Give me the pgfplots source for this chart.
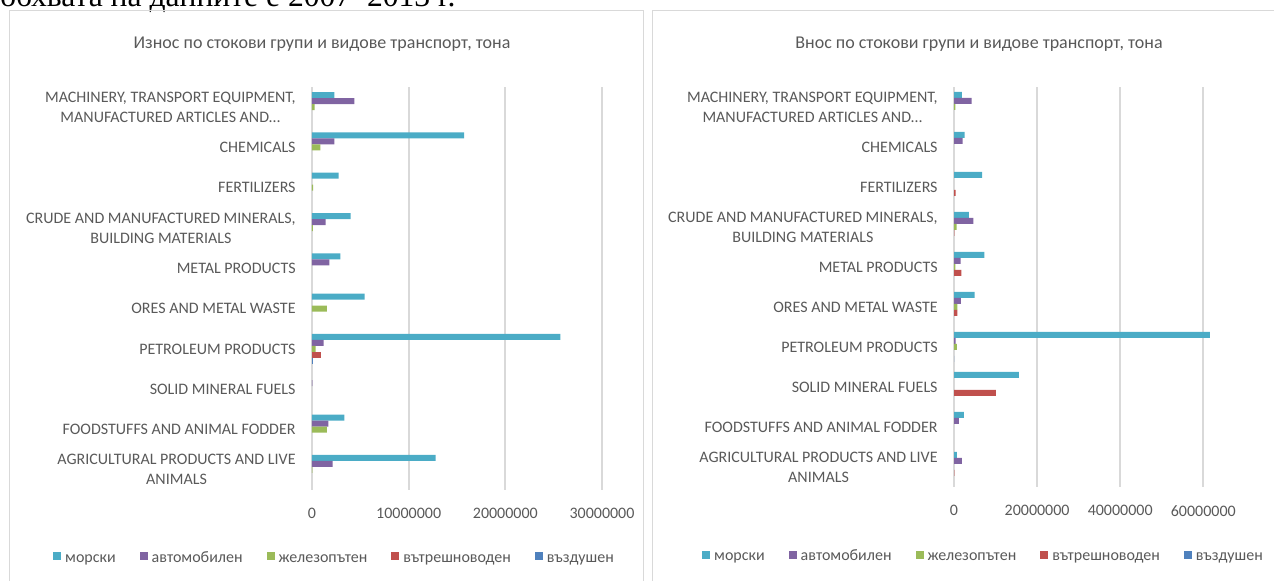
\documentclass[border=0pt]{standalone}
\usepackage{pgfplots}
\pgfplotsset{compat=1.18}
\usepackage{fontspec}
\setmainfont{Carlito}
\newfontfamily\serifx{Liberation Serif}
\definecolor{cMor}{HTML}{4BACC6}
\definecolor{cAvt}{HTML}{8064A2}
\definecolor{cZhe}{HTML}{9BBB59}
\definecolor{cVat}{HTML}{C0504D}
\definecolor{cVaz}{HTML}{4F81BD}
\definecolor{txt}{HTML}{595959}
\definecolor{grd}{HTML}{D9D9D9}
\pgfplotsset{
  mychart/.style={
    scale only axis,
    xbar, bar width=3pt,
    axis x line*=bottom, axis y line*=left,
    axis line style={draw=none},
    major tick length=0pt,
    scaled x ticks=false,
    xmajorgrids, grid style={color=grd, line width=0.9pt},
    ymin=-0.5, ymax=9.5,
    ytick={0,...,9},
    yticklabels={{AGRICULTURAL PRODUCTS AND LIVE\\ANIMALS},{FOODSTUFFS AND ANIMAL FODDER},{SOLID MINERAL FUELS},{PETROLEUM PRODUCTS},{ORES AND METAL WASTE},{METAL PRODUCTS},{CRUDE AND MANUFACTURED MINERALS,\\BUILDING MATERIALS},{FERTILIZERS},{CHEMICALS},{MACHINERY, TRANSPORT EQUIPMENT,\\MANUFACTURED ARTICLES AND…}},
    yticklabel style={align=center, font=\fontsize{8}{10}\selectfont, text=txt, inner sep=0pt, xshift=-8pt},
    xticklabel style={font=\fontsize{8}{9.6}\selectfont, text=txt, inner sep=0pt, yshift=-9pt},
    legend columns=5,
    legend style={draw=none, fill=none, font=\fontsize{8}{9.6}\selectfont, text=txt,
      nodes={inner sep=0.5pt, text height=5.6pt, text depth=1.7pt},
      /tikz/every odd column/.append style={column sep=1.5pt},
      /tikz/every even column/.append style={column sep=11.5pt}},
    legend image code/.code={\fill[##1] (0pt,-1pt) rectangle (4pt,3pt);},
  }
}
\begin{document}
\begin{tikzpicture}
\path[use as bounding box] (0,0) rectangle (637pt,290.5pt);
\clip (0,0) rectangle (637pt,290.5pt);
\node[anchor=base west, inner sep=0pt, font=\serifx\fontsize{15.8}{18}\selectfont, text=black] at (0pt,287pt) {обхвата на данните е 2007–2013 г.};
\draw[color=grd, line width=0.5pt] (4.5pt,-5pt) -- (4.5pt,285pt) -- (321.5pt,285pt) -- (321.5pt,-5pt);
\draw[color=grd, line width=0.5pt] (326pt,-5pt) -- (326pt,285pt) -- (650pt,285pt);
\node[font=\fontsize{9}{10}\selectfont, text=txt] at (161pt,268.5pt) {Износ по стокови групи и видове транспорт, тона};
\node[font=\fontsize{9}{10}\selectfont, text=txt] at (489.5pt,268.5pt) {Внос по стокови групи и видове транспорт, тона};

\begin{axis}[mychart, at={(156pt,45.5pt)}, anchor=south west,
  width=145pt, height=201.5pt, xmin=0, xmax=30000000,
  xtick={0,10000000,20000000,30000000}, xticklabels={0,10000000,20000000,30000000},
  legend style={at={(0.0759,-0.169)}, anchor=center}]
\addplot[fill=cMor, draw=none, bar shift=6pt] coordinates {(12800000,0) (3340000,1) (25700000,3) (5450000,4) (2930000,5) (4000000,6) (2760000,7) (15750000,8) (2310000,9)};
\addplot[fill=cAvt, draw=none, bar shift=3pt] coordinates {(2140000,0) (1690000,1) (50000,2) (1200000,3) (1790000,5) (1420000,6) (2310000,8) (4380000,9)};
\addplot[fill=cZhe, draw=none, bar shift=0pt] coordinates {(50000,0) (1550000,1) (380000,3) (1550000,4) (100000,6) (120000,7) (860000,8) (280000,9)};
\addplot[fill=cVat, draw=none, bar shift=-3pt] coordinates {(960000,3)};
\addplot[fill=cVaz, draw=none, bar shift=-6pt] coordinates {(150000,3)};
\legend{морски,автомобилен,железопътен,вътрешноводен,въздушен}
\end{axis}

\begin{axis}[mychart, at={(477pt,47pt)}, anchor=south west,
  width=166.2pt, height=200pt, xmin=0, xmax=80000000,
  xtick={0,20000000,40000000,60000000}, xticklabels={0,20000000,40000000,60000000},
  legend style={at={(0.0872,-0.175)}, anchor=center}]
\addplot[fill=cMor, draw=none, bar shift=6pt] coordinates {(700000,0) (2400000,1) (15600000,2) (61600000,3) (4970000,4) (7300000,5) (3600000,6) (6740000,7) (2560000,8) (1920000,9)};
\addplot[fill=cAvt, draw=none, bar shift=3pt] coordinates {(1900000,0) (1200000,1) (400000,3) (1680000,4) (1600000,5) (4650000,6) (2080000,8) (4250000,9)};
\addplot[fill=cZhe, draw=none, bar shift=0pt] coordinates {(700000,3) (800000,4) (300000,5) (600000,6) (300000,9)};
\addplot[fill=cVat, draw=none, bar shift=-3pt] coordinates {(100000,0) (10100000,2) (800000,4) (1760000,5) (100000,6) (400000,7)};
\addplot[fill=cVaz, draw=none, bar shift=-6pt] coordinates {(0,3)};
\legend{морски,автомобилен,железопътен,вътрешноводен,въздушен}
\end{axis}
\end{tikzpicture}
\end{document}
